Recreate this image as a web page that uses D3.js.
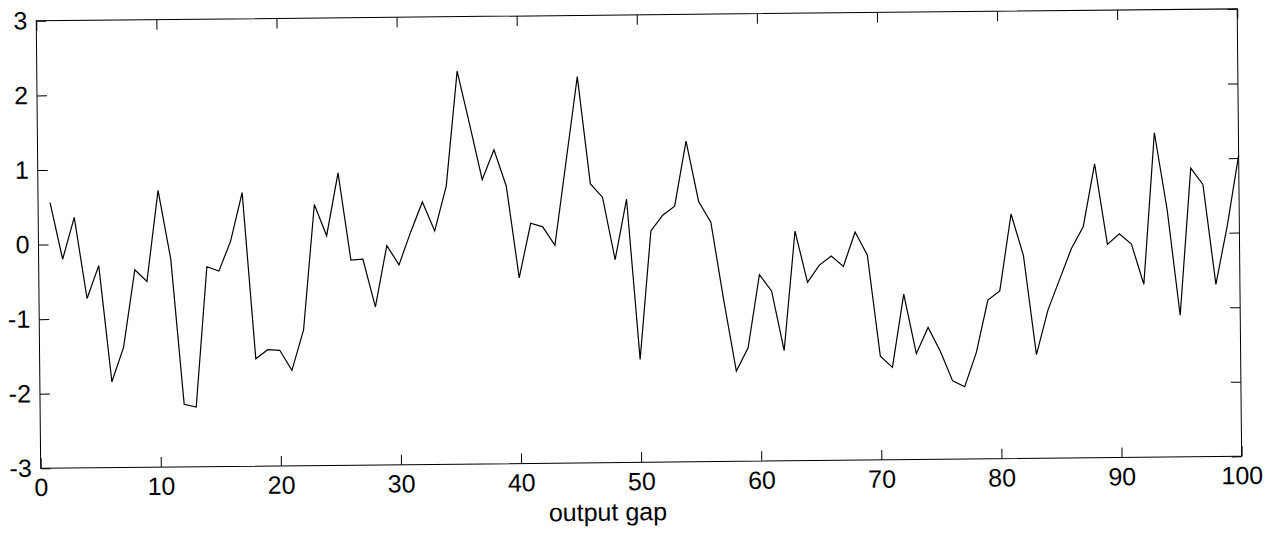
<!DOCTYPE html>
<html>
<head>
<meta charset="utf-8">
<script src="https://cdn.jsdelivr.net/npm/d3@7"></script>
<style>
  html, body { margin: 0; padding: 0; background: #fff; }
  svg { display: block; }
  text { font-family: "Liberation Sans", Arial, sans-serif; fill: #000; }
</style>
</head>
<body>
<svg id="chart" width="1284" height="534"></svg>
<script>
// ---- data ----
const periods = d3.range(1, 101);
const outputGap = [
  0.56, -0.20, 0.36, -0.73, -0.29, -1.85, -1.39, -0.35, -0.51, 0.71,
  -0.21, -2.16, -2.20, -0.32, -0.38, 0.02, 0.67, -1.56, -1.44, -1.45,
  -1.72, -1.18, 0.50, 0.08, 0.92, -0.25, -0.24, -0.88, -0.06, -0.32,
  0.12, 0.52, 0.13, 0.73, 2.27, 1.55, 0.81, 1.21, 0.72, -0.51,
  0.22, 0.17, -0.08, 1.05, 2.18, 0.74, 0.56, -0.28, 0.53, -1.62,
  0.10, 0.31, 0.43, 1.30, 0.49, 0.21, -0.83, -1.79, -1.48, -0.50,
  -0.72, -1.52, 0.08, -0.61, -0.38, -0.26, -0.40, 0.06, -0.25, -1.61,
  -1.76, -0.78, -1.58, -1.23, -1.55, -1.95, -2.03, -1.57, -0.87, -0.75,
  0.28, -0.28, -1.61, -1.01, -0.60, -0.19, 0.10, 0.94, -0.14, 0.00,
  -0.14, -0.68, 1.35, 0.32, -1.10, 0.87, 0.65, -0.69, 0.10, 1.04
];
const xTicks = [0, 10, 20, 30, 40, 50, 60, 70, 80, 90, 100];
const yTicks = [-3, -2, -1, 0, 1, 2, 3];
const xLabel = "output gap";

// ---- layout ----
const W = 1201, H = 447.5;
const originX = 40.7, originY = 468.3, tilt = -0.57;

const svg = d3.select("#chart");
svg.append("rect").attr("width", 1284).attr("height", 534).attr("fill", "#fff");

const g = svg.append("g")
  .attr("transform", `translate(${originX},${originY}) rotate(${tilt})`);

const x = d3.scaleLinear().domain([0, 100]).range([0, W]);
const y = d3.scaleLinear().domain([-3, 3]).range([0, -H]);

const fmt = d => String(d).replace("\u2212", "-");

// frame
g.append("rect")
  .attr("x", x(0)).attr("y", y(3))
  .attr("width", x(100) - x(0)).attr("height", y(-3) - y(3))
  .attr("fill", "none").attr("stroke", "#000").attr("stroke-width", 1);

function styleAxis(sel, fs) {
  sel.select(".domain").remove();
  sel.selectAll(".tick line").attr("stroke", "#000").attr("stroke-width", 1);
  sel.selectAll("text").attr("font-size", fs).attr("fill", "#000")
     .attr("font-family", '"Liberation Sans", Arial, sans-serif');
}

// bottom axis with labels
g.append("g")
  .call(d3.axisBottom(x).tickValues(xTicks).tickFormat(fmt)
        .tickSizeInner(-10).tickSizeOuter(0).tickPadding(10))
  .call(s => styleAxis(s, 25));

// top axis, ticks only
g.append("g").attr("transform", `translate(0,${y(3)})`)
  .call(d3.axisTop(x).tickValues(xTicks).tickFormat("")
        .tickSizeInner(-10).tickSizeOuter(0))
  .call(s => styleAxis(s, 25));

// left axis with labels
g.append("g")
  .call(d3.axisLeft(y).tickValues(yTicks).tickFormat(fmt)
        .tickSizeInner(-10).tickSizeOuter(0).tickPadding(9))
  .call(s => styleAxis(s, 25));

// right axis, ticks only
g.append("g").attr("transform", `translate(${W},0)`)
  .call(d3.axisRight(y).tickValues(yTicks).tickFormat("")
        .tickSizeInner(-10).tickSizeOuter(0))
  .call(s => styleAxis(s, 25));

// line
const line = d3.line().x((d, i) => x(periods[i])).y(d => y(d));
g.append("path")
  .datum(outputGap)
  .attr("d", line)
  .attr("fill", "none")
  .attr("stroke", "#000")
  .attr("stroke-width", 1.2)
  .attr("stroke-linejoin", "miter");

// x label
g.append("text")
  .attr("x", 566.8).attr("y", 58)
  .attr("text-anchor", "middle")
  .attr("font-size", 25)
  .text(xLabel);
</script>
</body>
</html>
